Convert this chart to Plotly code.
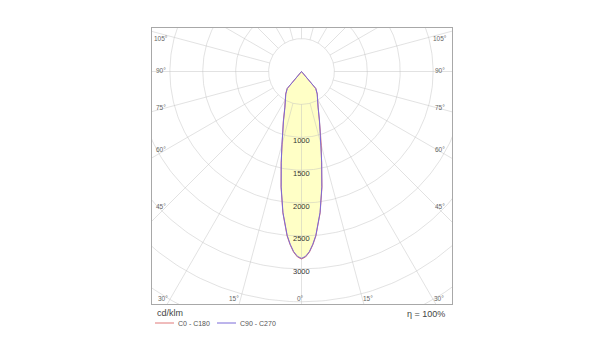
import numpy as np
import plotly.graph_objects as go

# ---- data (cd/klm) ----
gamma = [0, 1.25, 2.5, 3.75, 5, 7.5, 10, 12.5, 15, 17.5, 20, 25, 30, 35, 40, 45, 50, 60, 70, 80, 90]
c0_c180 = [2850, 2820, 2750, 2640, 2510, 2170, 1790, 1430, 1160, 950, 810, 600, 490, 420, 340, 0, 0, 0, 0, 0, 0]
c90_c270 = [2840, 2810, 2740, 2630, 2500, 2160, 1780, 1420, 1150, 945, 800, 595, 485, 415, 335, 0, 0, 0, 0, 0, 0]
ring_values = [1000, 1500, 2000, 2500, 3000]
angle_labels_left = ["105°", "90°", "75°", "60°", "45°"]
angle_labels_bottom = ["30°", "15°", "0°", "15°", "30°"]
series_names = ["C0 - C180", "C90 - C270"]
series_colors = ["#e07878", "#7a6ad8"]
efficiency = "η = 100%"
unit = "cd/klm"

# ---- geometry (pixels in the screenshot; page body adds an 8px offset) ----
OFF = 8
W, H = 600, 360
L, R, T, B = 152 - OFF, 452 - OFF, 28 - OFF, 304 - OFF
cx_px, cy_px = 301.5 - OFF, 71.5 - OFF
s = 0.0658  # px per cd/klm

xr = [-(cx_px - L) / s, (R - cx_px) / s]
yr = [-(B - cy_px) / s, (cy_px - T) / s]


def to_xy(g, r):
    g = np.radians(np.asarray(g, dtype=float))
    r = np.asarray(r, dtype=float)
    return r * np.sin(g), -r * np.cos(g)


def outline(vals):
    g = np.array(gamma, dtype=float)
    v = np.array(vals, dtype=float)
    gg = np.concatenate([-g[::-1], g[1:]])
    vv = np.concatenate([v[::-1], v[1:]])
    return to_xy(gg, vv)


def px2paper(px, py):
    px -= OFF
    py -= OFF
    return (px - L) / (R - L), (B - py) / (B - T)


fig = go.Figure()

# fill
fx, fy = outline(c0_c180)
fig.add_trace(go.Scatter(x=fx, y=fy, mode="lines", fill="toself",
                         fillcolor="#ffffc6", line=dict(width=0),
                         hoverinfo="skip", showlegend=False))

# grid circles and radial lines
gx, gy = [], []
th = np.linspace(0, 360, 361)
for Rv in range(500, 6001, 500):
    x, y = to_xy(th, np.full_like(th, Rv))
    gx += list(x) + [None]
    gy += list(y) + [None]
for a in range(0, 360, 15):
    x, y = to_xy([a, a], [500, 8000])
    gx += list(x) + [None]
    gy += list(y) + [None]
fig.add_trace(go.Scatter(x=gx, y=gy, mode="lines",
                         line=dict(color="rgba(190,190,190,0.45)", width=1),
                         hoverinfo="skip", showlegend=False))

# curves
for vals, name, col in zip([c0_c180, c90_c270], series_names, series_colors):
    x, y = outline(vals)
    fig.add_trace(go.Scatter(x=x, y=y, mode="lines", name=name,
                             line=dict(color=col, width=1), showlegend=False))

ann = []
shapes = []

# intensity labels
for v in ring_values:
    ann.append(dict(x=0, y=-v - 45, xref="x", yref="y", text=str(v), showarrow=False,
                    font=dict(size=7.5, color="#333333"), xanchor="center", yanchor="middle"))

# angle labels
side_y = [39, 70.7, 107.3, 149, 206.7]
for t, py in zip(angle_labels_left, side_y):
    for pxx in (161, 439.5):
        xp, yp = px2paper(pxx, py)
        ann.append(dict(x=xp, y=yp, xref="paper", yref="paper", text=t, showarrow=False,
                        font=dict(size=6.5, color="#666666"), xanchor="center", yanchor="middle"))
bottom_x = [162.7, 234.3, 300.7, 368.3, 438.7]
for t, pxx in zip(angle_labels_bottom, bottom_x):
    xp, yp = px2paper(pxx, 298.3)
    ann.append(dict(x=xp, y=yp, xref="paper", yref="paper", text=t, showarrow=False,
                    font=dict(size=6.5, color="#666666"), xanchor="center", yanchor="middle"))

xp, yp = px2paper(155, 313)
ann.append(dict(x=xp, y=yp, xref="paper", yref="paper", text=unit, showarrow=False,
                font=dict(size=9, color="#444444"), xanchor="left", yanchor="middle"))
xp, yp = px2paper(447, 314)
ann.append(dict(x=xp, y=yp, xref="paper", yref="paper", text=efficiency, showarrow=False,
                font=dict(size=9, color="#444444"), xanchor="right", yanchor="middle"))

# legend (line samples + labels)
leg_line_x = [(155, 174), (217, 236)]
for (a, b), name, col in zip(leg_line_x, series_names, series_colors):
    xa, ya = px2paper(a, 323)
    xb, _ = px2paper(b, 323)
    shapes.append(dict(type="line", xref="paper", yref="paper", x0=xa, x1=xb, y0=ya, y1=ya,
                       line=dict(color=col, width=1)))
    xt, yt = px2paper(b + 2, 323)
    ann.append(dict(x=xt, y=yt, xref="paper", yref="paper", text=name, showarrow=False,
                    font=dict(size=7, color="#555555"), xanchor="left", yanchor="middle"))

fig.update_layout(
    width=W, height=H,
    margin=dict(l=L, r=W - R, t=T, b=H - B, pad=0),
    paper_bgcolor="white", plot_bgcolor="white",
    font=dict(family="Liberation Sans, Arial, sans-serif"),
    xaxis=dict(range=xr, showgrid=False, zeroline=False, showticklabels=False, ticks="",
               showline=True, mirror=True, linecolor="#a8a8a8", linewidth=1, fixedrange=True),
    yaxis=dict(range=yr, showgrid=False, zeroline=False, showticklabels=False, ticks="",
               showline=True, mirror=True, linecolor="#a8a8a8", linewidth=1, fixedrange=True),
    showlegend=False,
    annotations=ann,
    shapes=shapes,
)

fig.write_html("out.html")
